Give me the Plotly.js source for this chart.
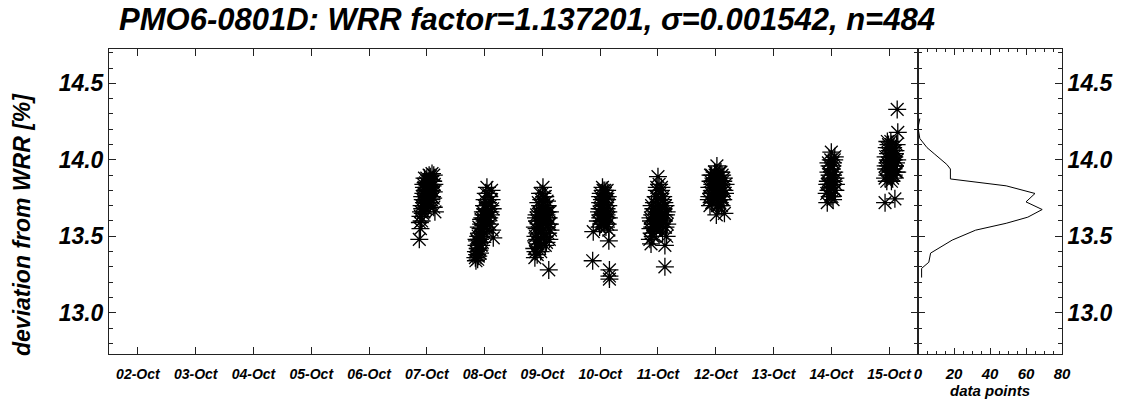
<!DOCTYPE html>
<html><head><meta charset="utf-8">
<script src="https://cdn.plot.ly/plotly-3.0.1.min.js"></script>
<style>html,body{margin:0;padding:0;background:#fff}#chart{width:1126px;height:403px}</style>
</head><body><div id="chart"></div>
<script>
// x values: day of October (decimal), y values: deviation from WRR [%]
const dayTicks = [2,3,4,5,6,7,8,9,10,11,12,13,14,15];
const dayLabels = ["02-Oct","03-Oct","04-Oct","05-Oct","06-Oct","07-Oct","08-Oct","09-Oct","10-Oct","11-Oct","12-Oct","13-Oct","14-Oct","15-Oct"];

const c1x = [6.87,6.88,6.89,6.89,6.90,6.91,6.91,6.92,6.93,6.93,6.94,6.95,6.95,6.96,6.97,6.97,6.98,6.99,7.00,7.00,7.01,7.02,7.03,7.03,7.04,7.05,7.06,7.06,7.07,7.08,7.09,7.09,7.10,7.11,7.12,7.12,7.13,7.14,
             6.92,6.94,6.96,6.98,7.00,7.02,7.04,7.06,7.08,7.10,7.12,6.95,6.99,7.03,7.07,7.11];
const c1y = [13.48,13.59,13.55,13.63,13.66,13.60,13.70,13.68,13.74,13.65,13.78,13.72,13.82,13.70,13.80,13.76,13.85,13.73,13.79,13.88,13.83,13.76,13.86,13.81,13.90,13.78,13.84,13.72,13.87,13.80,13.76,13.91,13.83,13.86,13.79,13.69,13.84,13.66,
             13.76,13.84,13.88,13.68,13.84,13.72,13.80,13.89,13.74,13.86,13.90,13.66,13.77,13.70,13.82,13.75];
const c2x = [7.84,7.85,7.85,7.86,7.87,7.87,7.88,7.89,7.89,7.90,7.91,7.91,7.92,7.93,7.94,7.94,7.95,7.96,7.97,7.97,7.98,7.99,8.00,8.00,8.01,8.02,8.03,8.03,8.04,8.05,8.06,8.07,8.08,8.09,8.10,8.11,8.12,8.13,8.14,8.15,
             7.86,7.88,7.90,7.92,7.94,7.96,7.98,8.00,8.02,8.04,8.06,8.08,8.10,8.12,7.89,7.93,7.97,8.01];
const c2y = [13.36,13.40,13.34,13.44,13.38,13.47,13.42,13.50,13.37,13.45,13.52,13.41,13.48,13.55,13.44,13.58,13.50,13.62,13.53,13.66,13.57,13.70,13.60,13.74,13.64,13.78,13.56,13.68,13.82,13.62,13.72,13.66,13.76,13.58,13.70,13.64,13.74,13.54,13.68,13.49,
             13.48,13.35,13.56,13.39,13.61,13.46,13.64,13.52,13.70,13.60,13.78,13.62,13.66,13.80,13.42,13.50,13.58,13.68];
const c3x = [8.86,8.87,8.88,8.88,8.89,8.90,8.91,8.91,8.92,8.93,8.94,8.94,8.95,8.96,8.97,8.97,8.98,8.99,9.00,9.00,9.01,9.02,9.02,9.03,9.04,9.05,9.05,9.06,9.07,9.08,9.08,9.09,9.10,9.11,9.11,9.12,9.13,9.14,
             8.87,8.89,8.91,8.93,8.95,8.97,8.99,9.01,9.03,9.05,9.07,9.09,9.11,9.13,8.90,8.96,9.02,9.08];
const c3y = [13.42,13.36,13.50,13.40,13.47,13.55,13.38,13.60,13.45,13.52,13.66,13.43,13.58,13.70,13.49,13.62,13.74,13.54,13.68,13.78,13.82,13.58,13.72,13.64,13.50,13.76,13.60,13.69,13.46,13.73,13.56,13.66,13.52,13.28,13.62,13.48,13.58,13.54,
             13.56,13.62,13.48,13.72,13.64,13.40,13.66,13.60,13.76,13.44,13.64,13.70,13.58,13.66,13.64,13.78,13.52,13.62];
const c4x = [9.87,9.88,9.96,9.98,9.99,10.00,10.00,10.01,10.02,10.02,10.03,10.04,10.04,10.05,10.06,10.06,10.07,10.08,10.08,10.09,10.10,10.10,10.11,10.12,10.12,10.13,10.14,10.14,10.15,10.15,10.16,10.16,10.16,
             9.99,10.01,10.03,10.05,10.07,10.09,10.11,10.13,10.15,10.00,10.04,10.08,10.12];
const c4y = [13.34,13.53,13.60,13.66,13.56,13.72,13.62,13.78,13.68,13.58,13.74,13.82,13.64,13.70,13.76,13.60,13.66,13.80,13.72,13.63,13.56,13.75,13.68,13.62,13.74,13.58,13.66,13.70,13.54,13.47,13.28,13.24,13.22,
             13.68,13.64,13.60,13.80,13.58,13.78,13.64,13.76,13.62,13.76,13.70,13.68,13.80];
const c5x = [10.86,10.87,10.88,10.88,10.89,10.90,10.91,10.92,10.92,10.93,10.94,10.95,10.96,10.96,10.97,10.98,10.99,11.00,11.00,11.01,11.02,11.03,11.04,11.04,11.05,11.06,11.07,11.08,11.08,11.09,11.10,11.11,11.12,11.12,11.13,11.14,11.15,11.16,
             10.87,10.89,10.91,10.93,10.95,10.97,10.99,11.01,11.03,11.05,11.07,11.09,11.11,11.13,11.15,10.90,10.98,11.06];
const c5y = [13.48,13.55,13.45,13.60,13.52,13.64,13.50,13.68,13.58,13.72,13.56,13.62,13.76,13.66,13.54,13.80,13.70,13.89,13.62,13.74,13.84,13.66,13.78,13.58,13.70,13.82,13.64,13.74,13.52,13.68,13.60,13.72,13.44,13.30,13.56,13.64,13.50,13.58,
             13.62,13.70,13.58,13.50,13.68,13.76,13.60,13.66,13.56,13.80,13.58,13.76,13.64,13.70,13.66,13.56,13.82,13.62];
const c6x = [11.88,11.89,11.90,11.91,11.92,11.93,11.93,11.94,11.95,11.96,11.97,11.98,11.99,12.00,12.00,12.01,12.01,12.02,12.03,12.04,12.05,12.06,12.07,12.07,12.08,12.09,12.10,12.11,12.12,12.13,12.14,12.15,12.16,12.17,
             11.89,11.91,11.93,11.95,11.97,11.99,12.01,12.03,12.05,12.07,12.09,12.11,12.13,12.15,11.94,12.02,12.10];
const c6y = [13.74,13.82,13.70,13.86,13.78,13.90,13.72,13.84,13.80,13.88,13.76,13.92,13.82,13.74,13.86,13.64,13.80,13.96,13.70,13.88,13.78,13.84,13.92,13.72,13.86,13.80,13.76,13.90,13.82,13.74,13.88,13.65,13.78,13.84,
             13.76,13.90,13.82,13.72,13.86,13.90,13.76,13.84,13.70,13.80,13.92,13.74,13.86,13.80,13.76,13.88,13.70];
const c7x = [13.92,13.93,13.94,13.95,13.95,13.96,13.97,13.98,13.98,13.99,14.00,14.00,14.01,14.02,14.03,14.03,14.04,14.05,14.06,14.06,14.07,14.08,
             13.93,13.95,13.97,13.99,14.01,14.03,14.05,14.07,13.96,14.02];
const c7y = [13.78,13.72,13.86,13.80,13.92,13.84,13.96,13.76,13.88,14.00,14.05,13.82,13.94,13.90,13.74,13.98,13.86,13.92,13.80,14.02,13.88,13.84,
             13.84,13.98,13.90,13.82,13.76,13.90,14.00,13.80,13.80,13.96];
const c8x = [14.93,14.93,14.94,14.95,14.96,14.97,14.97,14.98,14.99,15.00,15.00,15.01,15.02,15.03,15.04,15.04,15.05,15.06,15.07,15.08,15.08,15.09,15.10,15.10,15.11,15.12,15.13,15.14,15.14,15.15,
             14.94,14.96,14.98,15.00,15.02,15.04,15.06,15.08,15.10,15.12,15.14,14.97,15.03,15.09];
const c8y = [13.72,13.88,14.02,13.94,14.08,13.98,13.90,14.04,14.10,13.96,14.00,14.06,13.92,14.12,13.98,13.86,14.04,13.94,14.08,14.00,13.90,14.02,13.745,13.96,14.06,13.98,14.10,14.33,13.92,14.18,
             13.96,13.86,13.96,14.08,14.02,14.10,13.88,13.96,14.04,13.92,14.00,14.12,13.90,14.06];

// histogram of deviations
const histValue = [14.27,14.21,14.14,14.08,14.04,14.00,13.97,13.94,13.875,13.83,13.78,13.725,13.675,13.625,13.585,13.54,13.475,13.39,13.33,13.29,13.27,13.23];
const histCount = [1,0,1,5,9,13,16,18,18,49,65,60,69,61,49,32,19,7,6,2,2,2];

const allX = [].concat(c1x,c2x,c3x,c4x,c5x,c6x,c7x,c8x);
const allY = [].concat(c1y,c2y,c3y,c4y,c5y,c6y,c7y,c8y);

const FF = "Liberation Sans, Arial, sans-serif";
const fnt = (s) => ({family: FF, size: s, color: '#000', weight: 'bold', style: 'italic'});
const yr = [12.73, 14.725];
const axLine = {showline: true, linecolor: '#222', linewidth: 1, mirror: 'ticks', showgrid: false, zeroline: false, ticks: 'inside', tickcolor: '#222'};

const traces = [
  {type: 'scatter', mode: 'markers', x: allX, y: allY, xaxis: 'x', yaxis: 'y',
   marker: {symbol: 'asterisk-open', size: 15, color: '#000', line: {color: '#000', width: 1.3}}, hoverinfo: 'skip'},
  {type: 'scatter', mode: 'lines', x: histCount, y: histValue, xaxis: 'x2', yaxis: 'y2',
   line: {color: '#000', width: 1}, hoverinfo: 'skip'}
];

const layout = {
  width: 1126, height: 403,
  margin: {l: 109, r: 64, t: 49, b: 49},
  paper_bgcolor: '#fff', plot_bgcolor: '#fff',
  showlegend: false,
  title: {text: 'PMO6-0801D: WRR factor=1.137201, σ=0.001542, n=484', font: fnt(31),
          x: 527/1126, xanchor: 'center', xref: 'container', y: 1 - 19/403, yanchor: 'middle', yref: 'container'},
  xaxis: Object.assign({}, axLine, {domain: [0, 0.8489], range: [1.5, 15.5], tickmode: 'array',
          tickvals: dayTicks, ticktext: dayLabels, ticklen: 7, tickfont: fnt(14), ticklabelstandoff: 7}),
  yaxis: Object.assign({}, axLine, {range: yr, dtick: 0.5, tick0: 13, tickformat: '.1f', ticklen: 7,
          tickfont: fnt(23), minor: {ticks: 'inside', dtick: 0.1, ticklen: 4, tickcolor: '#222'}}),
  xaxis2: Object.assign({}, axLine, {domain: [0.8489, 1], anchor: 'y2', range: [0, 80], tickvals: [0,20,40,60,80],
          ticklen: 6, tickfont: fnt(15), ticklabelstandoff: 6,
          minor: {ticks: 'inside', dtick: 5, ticklen: 3, tickcolor: '#222'},
          title: {text: 'data points', font: fnt(15), standoff: 2}}),
  yaxis2: Object.assign({}, axLine, {anchor: 'x2', side: 'right', range: yr, dtick: 0.5, tick0: 13, tickformat: '.1f',
          ticklen: 7, tickfont: fnt(23), minor: {ticks: 'inside', dtick: 0.1, ticklen: 4, tickcolor: '#222'}}),
  annotations: [{text: 'deviation from WRR [%]', textangle: -90, xref: 'paper', yref: 'paper',
                 x: (22 - 109) / 953, y: (354 - 225) / 305, xanchor: 'center', yanchor: 'middle',
                 showarrow: false, font: fnt(23)}]
};

Plotly.newPlot('chart', traces, layout, {staticPlot: true, displayModeBar: false});
</script></body></html>
